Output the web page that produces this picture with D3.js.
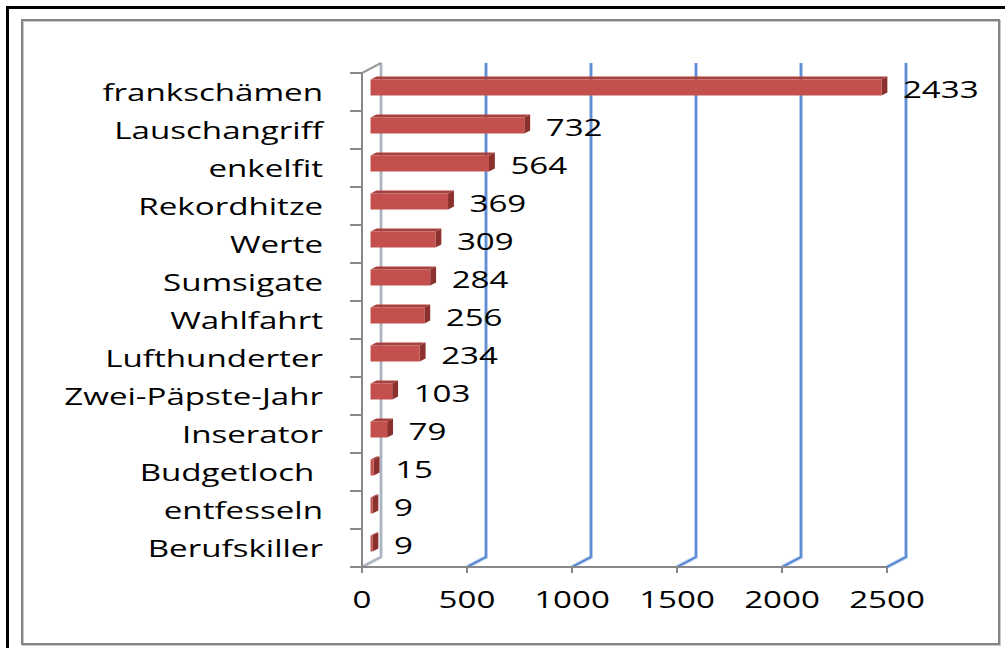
<!DOCTYPE html>
<html>
<head>
<meta charset="utf-8">
<script src="https://cdn.jsdelivr.net/npm/d3@7"></script>
<style>
  html, body { margin: 0; padding: 0; background: #fff; }
  svg text { font-family: "Open Sans", sans-serif; fill: #000; }
</style>
</head>
<body>
<div id="chart"></div>
<script>
// Data
const categories = ["frankschämen", "Lauschangriff", "enkelfit", "Rekordhitze", "Werte",
  "Sumsigate", "Wahlfahrt", "Lufthunderter", "Zwei-Päpste-Jahr", "Inserator",
  "Budgetloch ", "entfesseln", "Berufskiller"];
const values = [2433, 732, 564, 369, 309, 284, 256, 234, 103, 79, 15, 9, 9];
const xTicks = [0, 500, 1000, 1500, 2000, 2500];

const W = 1005, H = 648;
const svg = d3.select('#chart').append('svg')
  .attr('width', W).attr('height', H);

// frames
svg.append('rect')
  .attr('x', 7.5).attr('y', 7.5).attr('width', W + 10).attr('height', H + 10)
  .attr('fill', 'none').attr('stroke', '#000').attr('stroke-width', 3);
svg.append('rect')
  .attr('x', 23).attr('y', 21).attr('width', 977).attr('height', 624)
  .attr('fill', 'none').attr('stroke', '#c8c8c8').attr('stroke-width', 2);
svg.append('rect')
  .attr('x', 22).attr('y', 20).attr('width', 977).attr('height', 624)
  .attr('fill', 'none').attr('stroke', '#858585').attr('stroke-width', 2);

const x = d3.scaleLinear().domain([0, 2500]).range([362, 887]);
const y = d3.scaleBand().domain(categories).range([73, 567]);

// 3d depth vector of the plot box
const dx = 19, dy = -10;
const floorY = y.range()[1];
const topY = y.range()[0];
const textScale = 1.38;

// back wall gridlines + floor diagonals
xTicks.forEach(t => {
  const col = t === 0 ? '#a0a8b4' : '#4a7fcf';
  const halo = t === 0 ? '#dde2ea' : '#b8cdee';
  [[halo, 4], [col, 1.6]].forEach(([c, w]) => {
    svg.append('path')
      .attr('d', `M${x(t)},${floorY} L${x(t) + dx},${floorY + dy} L${x(t) + dx},${topY + dy}`)
      .attr('fill', 'none').attr('stroke', c).attr('stroke-width', w);
  });
});

// left wall top edge
svg.append('path')
  .attr('d', `M${x(0)},${topY} L${x(0) + dx},${topY + dy}`)
  .attr('fill', 'none').attr('stroke', '#9a9a9a').attr('stroke-width', 2);

// bars (front face at depth f0, back at f1)
const f0 = 0.45, f1 = 0.76;
const barH = 16;
const bars = svg.append('g');
categories.forEach((c, i) => {
  const v = values[i];
  const cy = y(c) + y.bandwidth() / 2;
  const ox = dx * f0, oy = dy * f0;
  const bx = dx * (f1 - f0), by = dy * (f1 - f0);
  const x0 = x(0) + ox, x1 = x(v) + ox;
  const y0 = cy - barH / 2 + oy, y1 = y0 + barH;
  // top face
  bars.append('path')
    .attr('d', `M${x0},${y0} L${x1},${y0} L${x1 + bx},${y0 + by} L${x0 + bx},${y0 + by} Z`)
    .attr('fill', '#a8403d');
  // right face
  bars.append('path')
    .attr('d', `M${x1},${y0} L${x1 + bx},${y0 + by} L${x1 + bx},${y1 + by} L${x1},${y1} Z`)
    .attr('fill', '#8c302e');
  // front face
  bars.append('rect')
    .attr('x', x0).attr('y', y0).attr('width', Math.max(x1 - x0, 0.5)).attr('height', barH)
    .attr('fill', '#c4504d');
  // data label
  svg.append('text')
    .attr('transform', `translate(${x(v) + 30},${cy + 6}) scale(${textScale},1)`)
    .style('font-size', '24px')
    .text(v);
});

// axes
const axisCol = '#888';
svg.append('line')
  .attr('x1', x(0)).attr('x2', x(0)).attr('y1', topY).attr('y2', floorY)
  .attr('stroke', axisCol).attr('stroke-width', 2);
svg.append('line')
  .attr('x1', x(0)).attr('x2', x(2500)).attr('y1', floorY).attr('y2', floorY)
  .attr('stroke', axisCol).attr('stroke-width', 2);

// category ticks at band edges
const edges = categories.map(c => y(c)).concat([floorY]);
edges.forEach(e => {
  svg.append('line')
    .attr('x1', x(0) - 12).attr('x2', x(0)).attr('y1', e).attr('y2', e)
    .attr('stroke', axisCol).attr('stroke-width', 2);
});
xTicks.forEach(t => {
  svg.append('line')
    .attr('x1', x(t)).attr('x2', x(t)).attr('y1', floorY).attr('y2', floorY + 6)
    .attr('stroke', axisCol).attr('stroke-width', 2);
  svg.append('text')
    .attr('transform', `translate(${x(t)},${floorY + 41}) scale(${textScale},1)`)
    .attr('text-anchor', 'middle')
    .style('font-size', '24px')
    .text(t);
});

// category labels
categories.forEach(c => {
  svg.append('text')
    .attr('transform', `translate(323,${y(c) + y.bandwidth() / 2 + 9}) scale(${textScale},1)`)
    .attr('text-anchor', 'end')
    .style('font-size', '24px')
    .style('white-space', 'pre')
    .text(c);
});
</script>
</body>
</html>
